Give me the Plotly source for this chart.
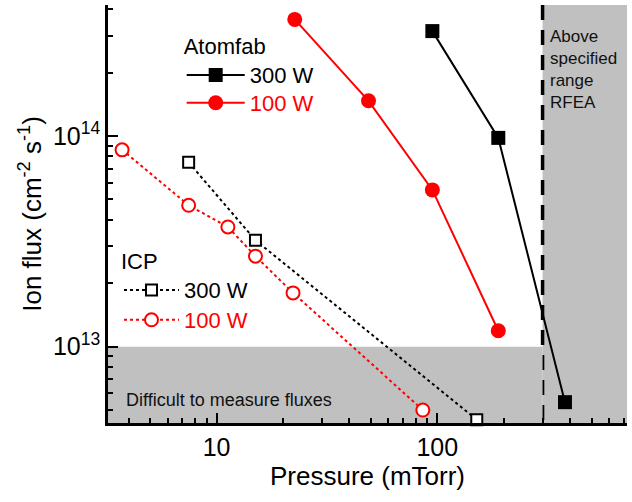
import math
import plotly.graph_objects as go

# Data (pressure in mTorr, ion flux in cm^-2 s^-1)
atom300_p = [95, 189, 379]
atom300_f = [3.15e14, 9.8e13, 5.45e12]
atom100_p = [22.6, 48.8, 95, 189]
atom100_f = [3.58e14, 1.47e14, 5.55e13, 1.19e13]
icp300_p = [7.47, 15.0, 151]
icp300_f = [7.5e13, 3.2e13, 4.5e12]
icp100_p = [3.73, 7.47, 11.25, 15.0, 22.2, 86]
icp100_f = [8.6e13, 4.69e13, 3.7e13, 2.69e13, 1.8e13, 5.0e12]

x_range = [3.22, 724]
y_range = [4.34e12, 4.19e14]
flux_limit = 1e13
rfea_limit = 300
x_ticks = [10, 100]
x_ticktext = ["10", "100"]
y_ticks = [1e13, 1e14]
y_ticktext = ["10<sup>13</sup>", "10<sup>14</sup>"]

FONT = "Arial, Liberation Sans, sans-serif"
GRAY = "#c0c0c0"
RED = "#ff0000"

fig = go.Figure()

fig.add_trace(go.Scatter(x=atom300_p, y=atom300_f, mode="lines+markers", name="300 W",
                         line=dict(color="black", width=2),
                         marker=dict(symbol="square", size=14, color="black"),
                         legend="legend", showlegend=True, cliponaxis=False))
fig.add_trace(go.Scatter(x=atom100_p, y=atom100_f, mode="lines+markers",
                         name="<span style='color:#ff0000'>100 W</span>",
                         line=dict(color=RED, width=2),
                         marker=dict(symbol="circle", size=15, color=RED),
                         legend="legend3", showlegend=True, cliponaxis=False))
fig.add_trace(go.Scatter(x=icp300_p, y=icp300_f, mode="lines+markers", name="300 W",
                         line=dict(color="black", width=2, dash="dot"),
                         marker=dict(symbol="square", size=11, color="white",
                                     line=dict(color="black", width=2)),
                         legend="legend2", showlegend=True, cliponaxis=False))
fig.add_trace(go.Scatter(x=icp100_p, y=icp100_f, mode="lines+markers",
                         name="<span style='color:#ff0000'>100 W</span>",
                         line=dict(color=RED, width=2, dash="dot"),
                         marker=dict(symbol="circle", size=13, color="white",
                                     line=dict(color=RED, width=2)),
                         legend="legend4", showlegend=True, cliponaxis=False))

shapes = [
    dict(type="rect", xref="x", yref="y", x0=x_range[0], x1=rfea_limit,
         y0=y_range[0], y1=flux_limit,
         fillcolor=GRAY, line=dict(width=0), layer="below"),
    dict(type="rect", xref="x", yref="y domain", x0=rfea_limit, x1=x_range[1], y0=0, y1=1,
         fillcolor=GRAY, line=dict(width=0), layer="below"),
    dict(type="line", xref="x", yref="y domain", x0=rfea_limit, x1=rfea_limit, y0=1, y1=0,
         line=dict(color="black", width=3.5, dash="15px,10px"), layer="below"),
]

annotations = [
    dict(text="Difficult to measure fluxes", xref="paper", yref="paper", x=0.03, y=0.055,
         xanchor="left", yanchor="middle", showarrow=False,
         font=dict(family=FONT, size=18, color="#111")),
    dict(text="Above<br>specified<br>range<br>RFEA", xref="paper", yref="paper", x=0.847, y=0.953,
         xanchor="left", yanchor="top", align="left", showarrow=False,
         font=dict(family=FONT, size=17, color="#111")),
]

minor_x = [m * 10 ** e for e in range(0, 3) for m in range(2, 10)
           if x_range[0] <= m * 10 ** e <= x_range[1]]
minor_y = [m * 10 ** e for e in range(12, 15) for m in range(2, 10)
           if y_range[0] <= m * 10 ** e <= y_range[1]]

xr = [math.log10(x_range[0]), math.log10(x_range[1])]
yr = [math.log10(y_range[0]), math.log10(y_range[1])]

common = dict(ticks="inside", ticklen=10, tickwidth=2, tickcolor="black",
              showline=True, linewidth=2.5, linecolor="black",
              showgrid=False, zeroline=False, automargin=False)
minor_x_d = dict(tickvals=minor_x, ticks="inside", ticklen=5, tickwidth=2,
                 tickcolor="black", showgrid=False)
minor_y_d = dict(tickvals=minor_y, ticks="inside", ticklen=5, tickwidth=2,
                 tickcolor="black", showgrid=False)


def leg(x, y, title=None, itemwidth=58):
    d = dict(x=x, y=y, xanchor="left", yanchor="top", bgcolor="rgba(0,0,0,0)",
             font=dict(size=22, family=FONT), itemwidth=itemwidth, tracegroupgap=0,
             visible=True)
    if title:
        d["title"] = dict(text=title, font=dict(size=22, family=FONT))
    return d


fig.update_layout(
    width=632, height=502,
    margin=dict(l=108, r=5, t=5, b=79),
    paper_bgcolor="white", plot_bgcolor="white",
    font=dict(family=FONT, color="black"),
    showlegend=True,
    shapes=shapes, annotations=annotations,
    xaxis=dict(type="log", range=xr, tickvals=x_ticks, ticktext=x_ticktext,
               tickfont=dict(size=25, family=FONT), minor=minor_x_d,
               title=dict(text="Pressure (mTorr)", font=dict(size=26, family=FONT), standoff=8),
               **common),
    yaxis=dict(type="log", range=yr, tickvals=y_ticks, ticktext=y_ticktext,
               tickfont=dict(size=25, family=FONT), minor=minor_y_d,
               title=dict(text="Ion flux (cm<sup>-2</sup> s<sup>-1</sup>)",
                          font=dict(size=26, family=FONT), standoff=4),
               **common),
    xaxis2=dict(type="log", range=xr, tickvals=x_ticks, overlaying="x", side="top",
                anchor="y", showticklabels=False, minor=minor_x_d, **common),
    yaxis2=dict(type="log", range=yr, tickvals=y_ticks, overlaying="y", side="right",
                anchor="x", showticklabels=False, minor=minor_y_d, **common),
    legend=leg(0.142, 0.951, "Atomfab"),
    legend3=leg(0.142, 0.816),
    legend2=leg(0.0212, 0.4366, "ICP", itemwidth=55),
    legend4=leg(0.0212, 0.2967, itemwidth=55),
)

fig.write_html("out.html", config={"displayModeBar": False},
               post_script="document.body.style.margin='0';")
